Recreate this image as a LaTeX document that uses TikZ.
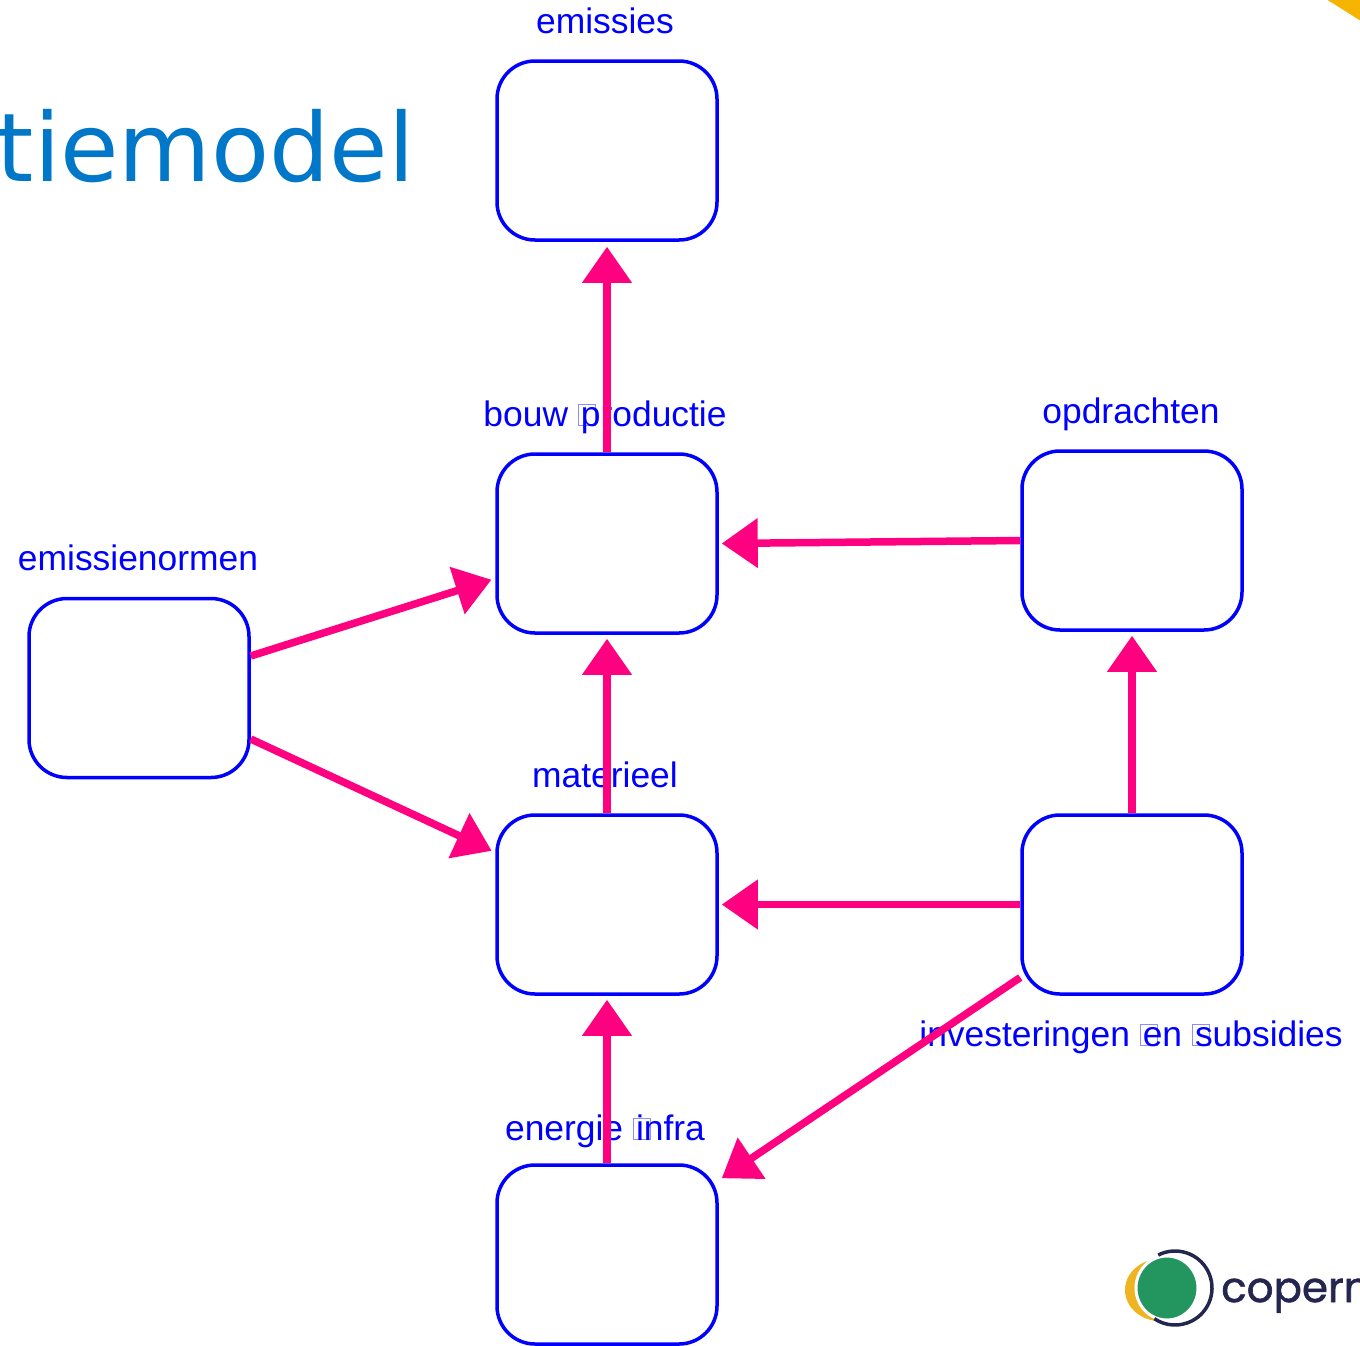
\documentclass[tikz,border=0pt]{standalone}
\usepackage{fontspec}
\setmainfont{Liberation Sans}
\newfontfamily\titlefont{DejaVu Sans}
\newfontfamily\logofont[FakeBold=1.4]{Poppins}
\usetikzlibrary{arrows.meta}
\definecolor{boxblue}{RGB}{0,0,255}
\definecolor{arrpink}{RGB}{255,0,128}
\definecolor{titleblue}{RGB}{0,119,200}
\definecolor{navy}{RGB}{36,38,80}
\definecolor{logogreen}{RGB}{34,150,94}
\definecolor{logoyellow}{RGB}{238,180,34}
\definecolor{cornery}{RGB}{245,180,0}
\newcommand\gbox{\makebox[3pt][l]{\color{boxblue!45}\fboxsep=0pt\fboxrule=1pt\raisebox{1pt}{\fbox{\rule{0pt}{20pt}\hspace{16pt}}}}}
\begin{document}
\begin{tikzpicture}[x=1pt,y=1pt,
  box/.style={draw=boxblue, line width=3.5pt, rounded corners=38pt, minimum width=220pt, minimum height=179pt, inner sep=0pt, fill=white},
  lbl/.style={text=boxblue, font=\fontsize{35.4}{40}\selectfont, anchor=base, inner sep=0pt},
  arr/.style={draw=arrpink, line width=7.5pt, -{Triangle[length=36pt,width=48pt]}}]
\useasboundingbox (0,-1345) rectangle (1360,0);
\fill[white] (0,-1345) rectangle (1360,0);
% corner decoration
\fill[cornery] (1326,1) -- (1361,1) -- (1361,-21) -- cycle;
% title
\node[anchor=base east, inner sep=0pt, text=titleblue, font=\titlefont\fontsize{95}{100}\selectfont] (title) at (415,-181) {tiemodel};
% boxes
\node[box] (emis) at (607,-150.5) {};
\node[box] (bouw) at (607,-543.5) {};
\node[box] (opdr) at (1132,-540.5) {};
\node[box] (emn) at (139,-688) {};
\node[box] (mat) at (607,-904.5) {};
\node[box] (inv) at (1132,-904.5) {};
\node[box] (ener) at (607,-1254.5) {};
% labels
\node[lbl] (lemis) at (605,-33) {emissies};
\node[lbl] (lbouw) at (605,-426) {bouw \gbox productie};
\node[lbl] (lopdr) at (1131,-423) {opdrachten};
\node[lbl] (lemn) at (138,-570) {emissienormen};
\node[lbl] (lmat) at (605,-787) {materieel};
\node[lbl] (linv) at (1131,-1046) {investeringen \gbox en \gbox subsidies};
\node[lbl] (lener) at (605,-1140) {energie \gbox infra};
% arrows
\draw[arr, shorten >=5pt] (bouw.north) -- (emis.south);
\draw[arr, shorten >=3pt] (opdr.west) -- (bouw.east);
\draw[arr, shorten >=4pt] ([yshift=32pt]emn.east) -- ([yshift=-35pt]bouw.west);
\draw[arr, shorten >=4pt] ([yshift=-51pt]emn.east) -- ([yshift=52pt]mat.west);
\draw[arr, shorten >=4pt] (mat.north) -- (bouw.south);
\draw[arr, shorten >=4pt] (inv.north) -- (opdr.south);
\draw[arr, shorten >=3pt] (inv.west) -- (mat.east);
\draw[arr] ([yshift=-73pt]inv.west) -- ([xshift=3pt,yshift=-15pt]ener.north east);
\draw[arr, shorten >=4pt] (ener.north) -- (mat.south);
% logo
\fill[logoyellow] (1160,-1290) ellipse[x radius=35pt, y radius=31pt];
\filldraw[fill=logogreen, draw=white, line width=3pt] (1167,-1288) ellipse[x radius=31pt, y radius=32pt];
\draw[navy, line width=3.5pt] (1175,-1288) ++(117:37pt) arc[start angle=117, end angle=-124, radius=37pt];
\node[anchor=base west, inner sep=0pt, text=navy, font=\logofont\fontsize{42}{46}\selectfont] (logo) at (1221,-1302) {copern};
\end{tikzpicture}
\end{document}
